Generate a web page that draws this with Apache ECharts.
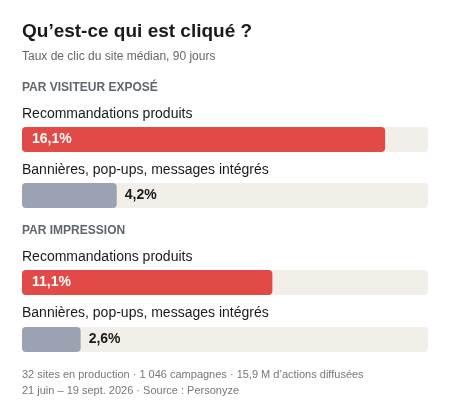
<!DOCTYPE html>
<html>
<head>
<meta charset="utf-8">
<script src="https://cdn.jsdelivr.net/npm/echarts@6/dist/echarts.min.js"></script>
<style>html,body{margin:0;padding:0;background:#fff}#grafico{width:450px;height:412px}</style>
</head>
<body>
<div id="grafico"></div>
<script>
var labels = ['Recommandations produits', 'Bannières, pop-ups, messages intégrés', 'Recommandations produits', 'Bannières, pop-ups, messages intégrés'];
var values = [16.1, 4.2, 11.1, 2.6];
var colors = ['#e24a47', '#9aa3b1', '#e24a47', '#9aa3b1'];
var groups = ['PAR VISITEUR EXPOSÉ', 'PAR IMPRESSION'];
var xMax = 18;

var barTops = [127, 183, 270, 327];
var labelY = [115, 171, 258, 314];
var font = 'Helvetica, Arial, "Liberation Sans", sans-serif';

var chartDom = document.getElementById('grafico');
var myChart = echarts.init(chartDom);

var grids = [], xAxes = [], yAxes = [], series = [];
var texts = [
  { type: 'text', left: 22, top: 22, style: { text: 'Qu’est-ce qui est cliqué ?', font: 'bold 19px ' + font, fill: '#1a1a1a' } },
  { type: 'text', left: 22, top: 51, style: { text: 'Taux de clic du site médian, 90 jours', font: '12px ' + font, fill: '#666' } },
  { type: 'text', left: 22, top: 82, style: { text: groups[0], font: 'bold 12px ' + font, fill: '#5f6670' } },
  { type: 'text', left: 22, top: 225, style: { text: groups[1], font: 'bold 12px ' + font, fill: '#5f6670' } },
  { type: 'text', left: 22, top: 369, style: { text: '32 sites en production · 1 046 campagnes · 15,9 M d’actions diffusées', font: '11px ' + font, fill: '#777' } },
  { type: 'text', left: 22, top: 385, style: { text: '21 juin – 19 sept. 2026 · Source : Personyze', font: '11px ' + font, fill: '#777' } }
];

values.forEach(function (v, i) {
  grids.push({ left: 22, width: 406, top: barTops[i], height: 25 });
  xAxes.push({ gridIndex: i, type: 'value', min: 0, max: xMax, show: false });
  yAxes.push({ gridIndex: i, type: 'category', data: [labels[i]], show: false });
  var inside = v > 8;
  series.push({
    type: 'bar', xAxisIndex: i, yAxisIndex: i, data: [v], barWidth: 25,
    showBackground: true,
    backgroundStyle: { color: '#f2efe9', borderRadius: 4 },
    itemStyle: { color: colors[i], borderRadius: 4 },
    label: {
      show: true,
      position: inside ? 'insideLeft' : 'right',
      distance: inside ? 10 : 8,
      formatter: function (p) { return String(p.value).replace('.', ',') + '%'; },
      color: inside ? '#fff' : '#1a1a1a',
      fontWeight: 'bold', fontSize: 14, fontFamily: font
    },
    silent: true
  });
  texts.push({ type: 'text', left: 22, top: labelY[i] - 8, style: { text: labels[i], font: '14px ' + font, fill: '#1a1a1a' } });
});

var option = {
  animation: false,
  grid: grids, xAxis: xAxes, yAxis: yAxes, series: series,
  graphic: texts
};
option && myChart.setOption(option);
</script>
</body>
</html>
